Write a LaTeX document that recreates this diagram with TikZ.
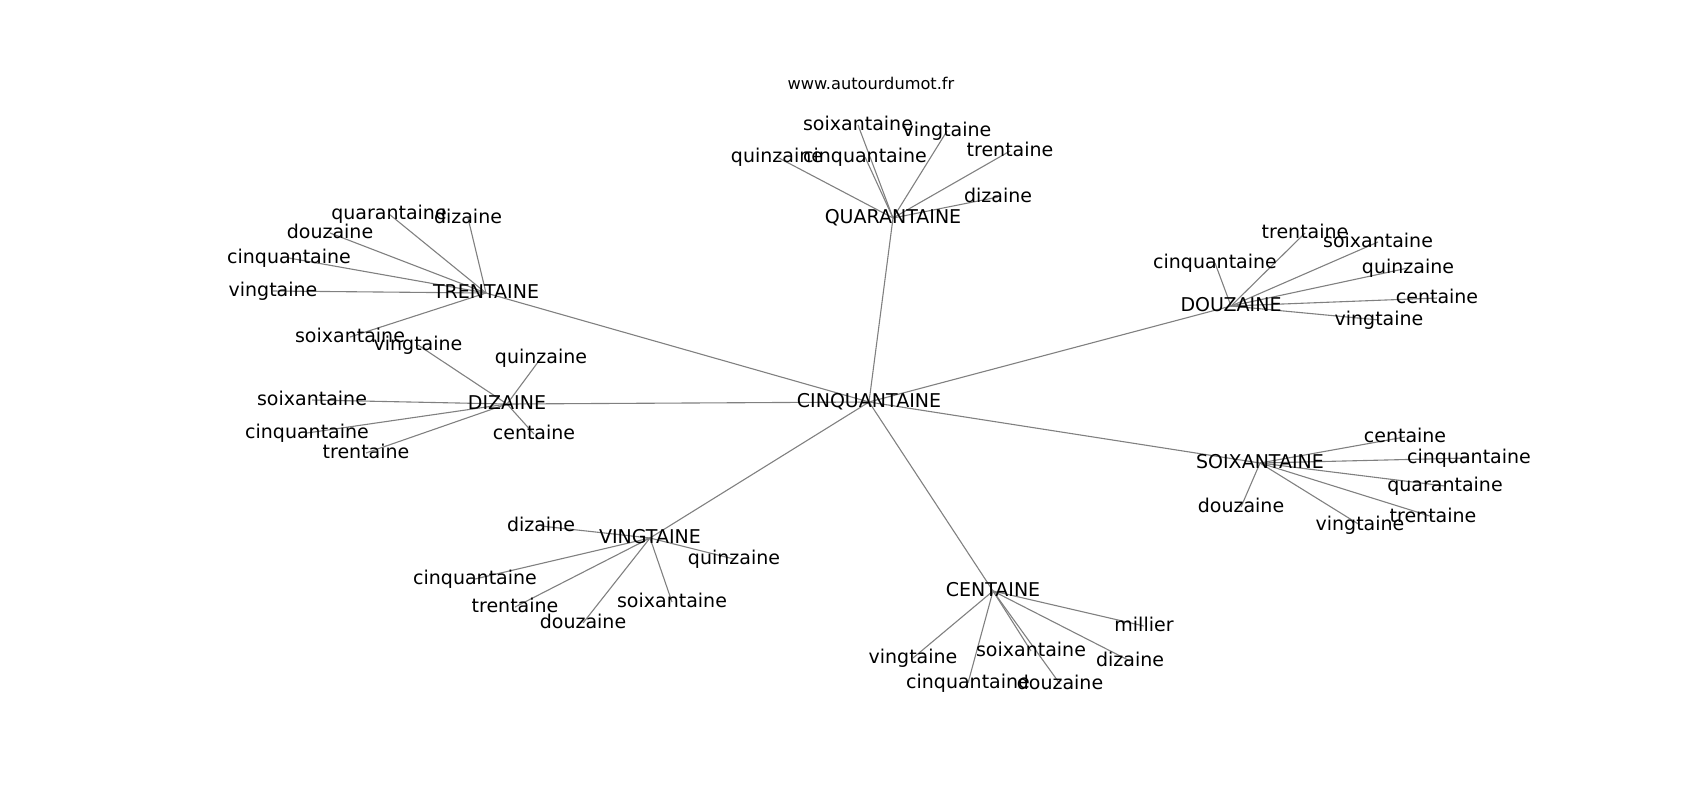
\documentclass[tikz,border=0pt]{standalone}
\usepackage{fontspec}
\setmainfont{DejaVu Sans}
\usetikzlibrary{backgrounds}
\tikzset{
  lbl/.style={inner sep=0pt, anchor=center, font=\fontsize{9.5}{11}\selectfont, text height=0.76em, text depth=0.24em},
  ttl/.style={inner sep=0pt, anchor=center, font=\fontsize{8.1}{10}\selectfont},
  edge/.style={draw=black!50, line width=0.55pt}
}
\begin{document}
\begin{tikzpicture}[x=0.5pt,y=-0.5pt]
\useasboundingbox (0,0) rectangle (1700,800);
\node[ttl] (title) at (871,83) {www.autourdumot.fr};
% hubs
\node[lbl] (C50) at (869,402) {CINQUANTAINE};
\node[lbl] (T30) at (486,293) {TRENTAINE};
\node[lbl] (Q40) at (893,218) {QUARANTAINE};
\node[lbl] (D12) at (1231,306) {DOUZAINE};
\node[lbl] (S60) at (1260,463) {SOIXANTAINE};
\node[lbl] (V20) at (650,538) {VINGTAINE};
\node[lbl] (C100) at (993,591) {CENTAINE};
\node[lbl] (D10) at (507,404) {DIZAINE};
% TRENTAINE leaves
\node[lbl] (t1) at (389,214) {quarantaine};
\node[lbl] (t2) at (468,218) {dizaine};
\node[lbl] (t3) at (330,233) {douzaine};
\node[lbl] (t4) at (289,258) {cinquantaine};
\node[lbl] (t5) at (273,291) {vingtaine};
\node[lbl] (t6) at (350,337) {soixantaine};
% DIZAINE leaves
\node[lbl] (d1) at (418,345) {vingtaine};
\node[lbl] (d2) at (541,358) {quinzaine};
\node[lbl] (d3) at (312,400) {soixantaine};
\node[lbl] (d4) at (307,433) {cinquantaine};
\node[lbl] (d5) at (534,434) {centaine};
\node[lbl] (d6) at (366,453) {trentaine};
% QUARANTAINE leaves
\node[lbl] (q1) at (858,125) {soixantaine};
\node[lbl] (q2) at (947,131) {vingtaine};
\node[lbl] (q3) at (777,157) {quinzaine};
\node[lbl] (q4) at (865,157) {cinquantaine};
\node[lbl] (q5) at (1010,151) {trentaine};
\node[lbl] (q6) at (998,197) {dizaine};
% DOUZAINE leaves
\node[lbl] (z1) at (1215,263) {cinquantaine};
\node[lbl] (z2) at (1305,233) {trentaine};
\node[lbl] (z3) at (1378,242) {soixantaine};
\node[lbl] (z4) at (1408,268) {quinzaine};
\node[lbl] (z5) at (1437,298) {centaine};
\node[lbl] (z6) at (1379,320) {vingtaine};
% SOIXANTAINE leaves
\node[lbl] (s1) at (1405,437) {centaine};
\node[lbl] (s2) at (1469,458) {cinquantaine};
\node[lbl] (s3) at (1445,486) {quarantaine};
\node[lbl] (s4) at (1433,517) {trentaine};
\node[lbl] (s5) at (1360,525) {vingtaine};
\node[lbl] (s6) at (1241,507) {douzaine};
% VINGTAINE leaves
\node[lbl] (v1) at (541,526) {dizaine};
\node[lbl] (v2) at (734,559) {quinzaine};
\node[lbl] (v3) at (475,579) {cinquantaine};
\node[lbl] (v4) at (515,607) {trentaine};
\node[lbl] (v5) at (583,623) {douzaine};
\node[lbl] (v6) at (672,602) {soixantaine};
% CENTAINE leaves
\node[lbl] (c1) at (1144,626) {millier};
\node[lbl] (c2) at (913,658) {vingtaine};
\node[lbl] (c3) at (1031,651) {soixantaine};
\node[lbl] (c4) at (1130,661) {dizaine};
\node[lbl] (c5) at (968,683) {cinquantaine};
\node[lbl] (c6) at (1060,684) {douzaine};
\begin{pgfonlayer}{background}
\foreach \h in {T30,Q40,D12,S60,V20,C100,D10}
  \draw[edge] (C50.center) -- (\h.center);
\foreach \l in {t1,t2,t3,t4,t5,t6}
  \draw[edge] (T30.center) -- (\l.center);
\foreach \l in {d1,d2,d3,d4,d5,d6}
  \draw[edge] (D10.center) -- (\l.center);
\foreach \l in {q1,q2,q3,q4,q5,q6}
  \draw[edge] (Q40.center) -- (\l.center);
\foreach \l in {z1,z2,z3,z4,z5,z6}
  \draw[edge] (D12.center) -- (\l.center);
\foreach \l in {s1,s2,s3,s4,s5,s6}
  \draw[edge] (S60.center) -- (\l.center);
\foreach \l in {v1,v2,v3,v4,v5,v6}
  \draw[edge] (V20.center) -- (\l.center);
\foreach \l in {c1,c2,c3,c4,c5,c6}
  \draw[edge] (C100.center) -- (\l.center);
\end{pgfonlayer}
\end{tikzpicture}
\end{document}
